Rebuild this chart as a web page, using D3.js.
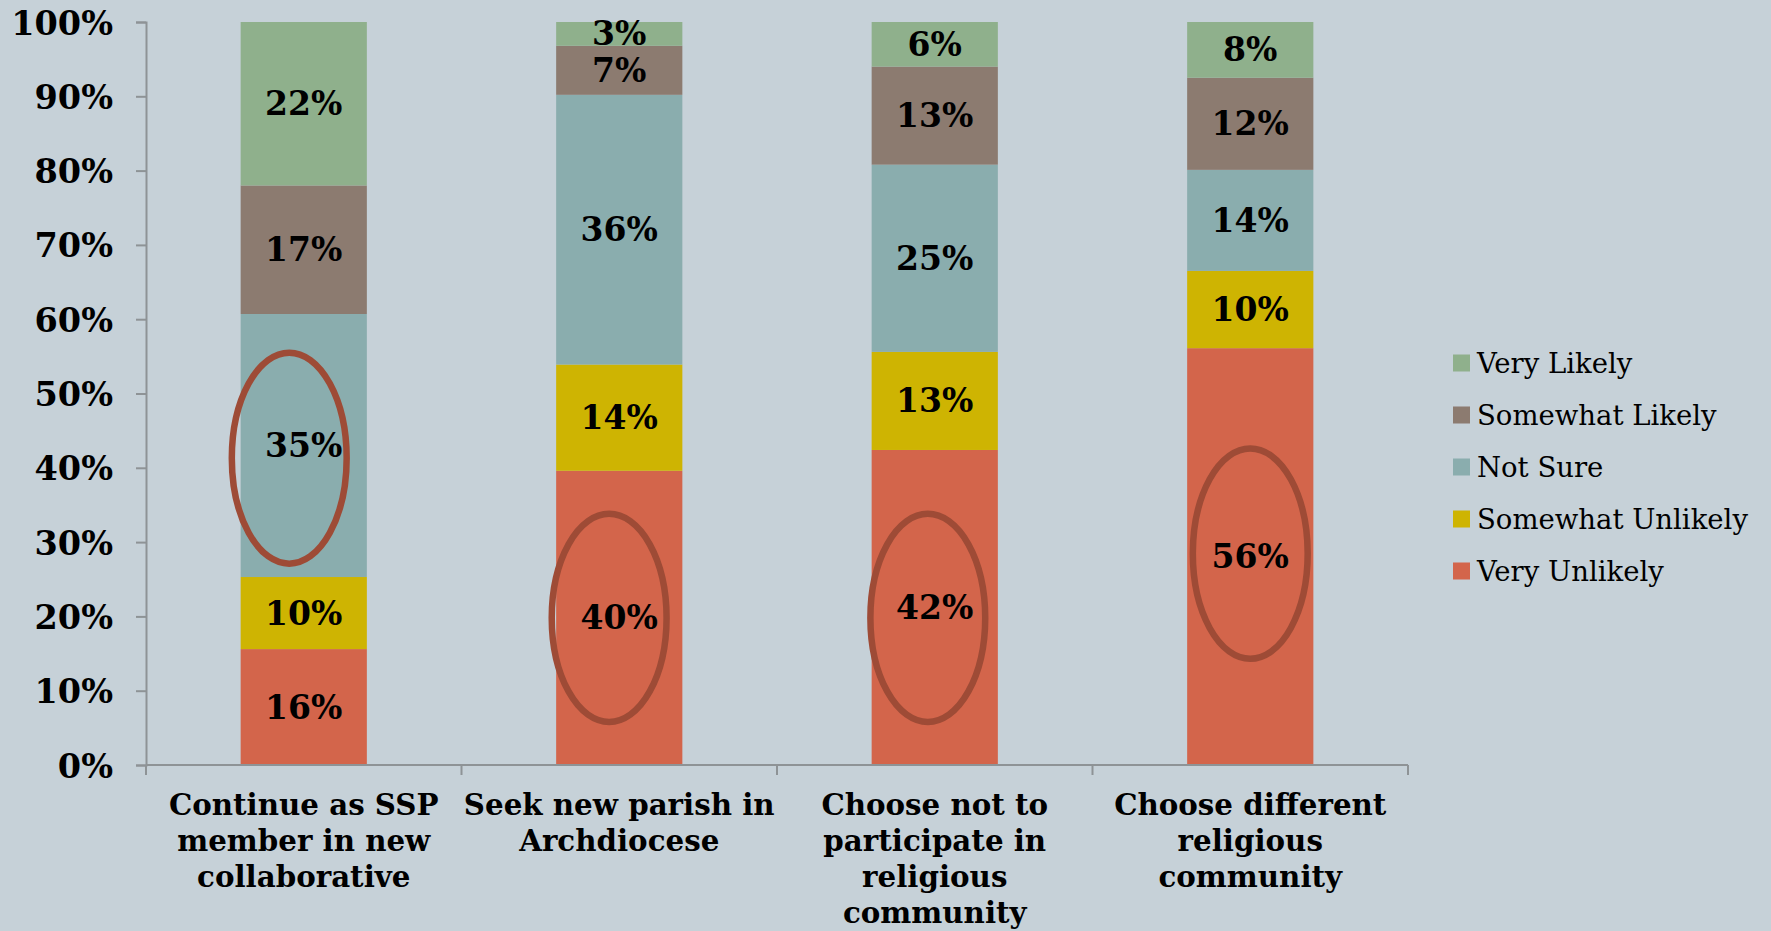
<!DOCTYPE html>
<html>
<head>
<meta charset="utf-8">
<script src="https://cdn.jsdelivr.net/npm/d3@7"></script>
<style>
  html, body { margin: 0; padding: 0; background: #C6D1D8; }
  svg { display: block; }
  text { font-family: "DejaVu Serif", Georgia, serif; fill: #000; }
</style>
</head>
<body>
<svg id="chart" width="1771" height="931"></svg>
<script>
// ---- Data ----
const categories = [
  "Continue as SSP member in new collaborative",
  "Seek new parish in Archdiocese",
  "Choose not to participate in religious community",
  "Choose different religious community"
];
const categoryLines = [
  ["Continue as SSP", "member in new", "collaborative"],
  ["Seek new parish in", "Archdiocese"],
  ["Choose not to", "participate in", "religious", "community"],
  ["Choose different", "religious", "community"]
];
const seriesNames = ["Very Unlikely", "Somewhat Unlikely", "Not Sure", "Somewhat Likely", "Very Likely"];
const veryUnlikely     = [15.6, 39.6, 42.4, 56.1];
const somewhatUnlikely = [9.7, 14.3, 13.2, 10.4];
const notSure          = [35.4, 36.3, 25.2, 13.6];
const somewhatLikely   = [17.3, 6.6, 13.2, 12.4];
const veryLikely       = [22.0, 3.2, 6.0, 7.5];
const yTicks = [0, 10, 20, 30, 40, 50, 60, 70, 80, 90, 100];
const legendOrder = ["Very Likely", "Somewhat Likely", "Not Sure", "Somewhat Unlikely", "Very Unlikely"];
// highlighted cells (annotation ellipses): category index, top %, bottom %
const highlightCategory = [0, 1, 2, 3];
const highlightTop      = [55.5, 33.8, 33.8, 42.6];
const highlightBottom   = [27.1, 5.8, 5.8, 14.3];
const highlightShift    = [-0.23, -0.16, -0.11, 0.0];

// ---- Styles ----
const colors = {
  "Very Unlikely": "#D3654B",
  "Somewhat Unlikely": "#CEB402",
  "Not Sure": "#8AADAE",
  "Somewhat Likely": "#8C7B70",
  "Very Likely": "#8FB08C"
};
const axisColor = "#8E9396";
const ellipseColor = "#9E4B36";

const svg = d3.select("#chart");
const margin = { left: 146, right: 363, top: 22, bottom: 166 };
const W = 1771, H = 931;
const x = d3.scaleBand().domain(categories).range([margin.left, W - margin.right]).padding(0);
const y = d3.scaleLinear().domain([0, 100]).range([H - margin.bottom, margin.top]);
const barW = x.bandwidth() * 0.4;

const seriesData = [veryUnlikely, somewhatUnlikely, notSure, somewhatLikely, veryLikely];
const table = categories.map((c, i) => {
  const row = { category: c };
  seriesNames.forEach((s, k) => row[s] = seriesData[k][i]);
  return row;
});
const stack = d3.stack().keys(seriesNames)(table);

// Bars
const gBars = svg.append("g");
stack.forEach(layer => {
  gBars.selectAll(null).data(layer).enter().append("rect")
    .attr("x", d => x(d.data.category) + (x.bandwidth() - barW) / 2)
    .attr("y", d => y(d[1]))
    .attr("width", barW)
    .attr("height", d => y(d[0]) - y(d[1]))
    .attr("fill", colors[layer.key]);
});

// Data labels
stack.forEach(layer => {
  gBars.selectAll(null).data(layer).enter().append("text")
    .attr("x", d => x(d.data.category) + x.bandwidth() / 2)
    .attr("y", d => y((d[0] + d[1]) / 2))
    .attr("text-anchor", "middle")
    .attr("dominant-baseline", "central")
    .attr("font-size", 33)
    .attr("font-weight", "bold")
    .text(d => Math.round(d[1] - d[0]) + "%");
});

// Highlight ellipses
highlightCategory.forEach((ci, k) => {
  const c = categories[ci];
  const cx = x(c) + x.bandwidth() / 2 + highlightShift[k] * barW / 2;
  const yt = y(highlightTop[k]), yb = y(highlightBottom[k]);
  svg.append("ellipse")
    .attr("cx", cx)
    .attr("cy", (yt + yb) / 2)
    .attr("rx", barW / 2 * 0.91)
    .attr("ry", (yb - yt) / 2)
    .attr("fill", "none")
    .attr("stroke", ellipseColor)
    .attr("stroke-width", 6.5);
});

// Y axis
const yAxis = d3.axisLeft(y).tickValues(yTicks).tickSize(10).tickPadding(23).tickFormat(d => d + "%");
const gy = svg.append("g").attr("transform", `translate(${margin.left},0)`).call(yAxis);
gy.select(".domain").attr("stroke", axisColor).attr("stroke-width", 2);
gy.selectAll(".tick line").attr("stroke", axisColor).attr("stroke-width", 2);
gy.selectAll(".tick text")
  .attr("font-family", "DejaVu Serif, serif")
  .attr("font-size", 33.5).attr("font-weight", "bold").attr("fill", "#000")
  .attr("dy", "0.36em");

// X axis
const xBottom = y(0);
svg.append("line").attr("x1", margin.left).attr("x2", W - margin.right)
  .attr("y1", xBottom).attr("y2", xBottom).attr("stroke", axisColor).attr("stroke-width", 2);
const boundaries = categories.map(c => x(c)).concat([x(categories[categories.length - 1]) + x.bandwidth()]);
svg.selectAll(null).data(boundaries).enter().append("line")
  .attr("x1", d => d).attr("x2", d => d)
  .attr("y1", xBottom).attr("y2", xBottom + 10)
  .attr("stroke", axisColor).attr("stroke-width", 2);

// Category labels
categories.forEach((c, i) => {
  const t = svg.append("text")
    .attr("x", x(c) + x.bandwidth() / 2)
    .attr("y", xBottom + 50)
    .attr("text-anchor", "middle")
    .attr("font-size", 29.3)
    .attr("font-weight", "bold");
  categoryLines[i].forEach((line, j) => {
    t.append("tspan").attr("x", x(c) + x.bandwidth() / 2).attr("dy", j === 0 ? 0 : 36).text(line);
  });
});

// Legend
const legend = svg.append("g").attr("transform", "translate(1453,363)");
legendOrder.forEach((name, i) => {
  const g = legend.append("g").attr("transform", `translate(0,${i * 52})`);
  g.append("rect").attr("x", 0).attr("y", -8.5).attr("width", 17).attr("height", 17).attr("fill", colors[name]);
  g.append("text").attr("x", 24).attr("y", 0).attr("dominant-baseline", "central")
    .attr("font-size", 27.5).text(name);
});
</script>
</body>
</html>
